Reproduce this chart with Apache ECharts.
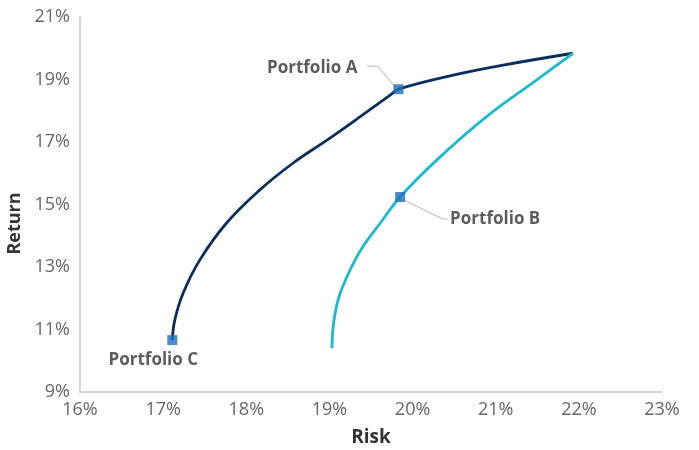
<!DOCTYPE html>
<html>
<head>
<meta charset="utf-8">
<script src="https://cdn.jsdelivr.net/npm/echarts@6/dist/echarts.min.js"></script>
<style>html,body{margin:0;padding:0;background:#fff}#c{width:699px;height:450px}</style>
</head>
<body>
<div id="c"></div>
<script>
// Frontier curves: [risk %, return %]
const frontierA = [
  [17.11, 10.66], [17.14, 11.30], [17.24, 12.16], [17.44, 13.22], [17.76, 14.40],
  [18.16, 15.46], [18.56, 16.32], [18.97, 17.06], [19.37, 17.81], [19.73, 18.50],
  [19.83, 18.69], [20.49, 19.14], [21.09, 19.46], [21.93, 19.84]
];
const frontierB = [
  [19.03, 10.40], [19.05, 11.20], [19.11, 12.00], [19.23, 12.80], [19.39, 13.60],
  [19.61, 14.40], [19.85, 15.24], [20.29, 16.42], [20.89, 17.81], [21.49, 18.98],
  [21.93, 19.84]
];
const portfolioNames = ['Portfolio A', 'Portfolio B', 'Portfolio C'];
const portfolioPoints = [[19.83, 18.69], [19.85, 15.24], [17.11, 10.66]];
const leaderA = [[19.80, 18.74], [19.58, 19.43], [19.45, 19.43]];
const leaderB = [[19.88, 15.17], [20.36, 14.54], [20.42, 14.54]];
const xTicks = [16, 17, 18, 19, 20, 21, 22, 23];
const yTicks = [9, 11, 13, 15, 17, 19, 21];

const FONT = '"Open Sans", "Noto Sans", sans-serif';
const labelPos = [[-36, -16, 'right'], [55, 27, 'left'], [-14, 25, 'center']];

const chart = echarts.init(document.getElementById('c'), null, {renderer: 'canvas'});
chart.setOption({
  animation: false,
  grid: {left: 80, right: 37, top: 17, bottom: 58, containLabel: false, outerBoundsMode: 'none'},
  xAxis: {
    type: 'value', min: xTicks[0], max: xTicks[xTicks.length - 1], interval: 1,
    name: 'Risk', nameLocation: 'middle', nameGap: 36,
    nameTextStyle: {fontFamily: FONT, fontWeight: 'bold', fontSize: 19, color: '#333'},
    axisLine: {lineStyle: {color: '#c8c8c8', width: 1.5}},
    axisTick: {show: false}, splitLine: {show: false},
    axisLabel: {fontFamily: FONT, fontSize: 18, color: '#666', margin: 9, formatter: v => v + '%'}
  },
  yAxis: {
    type: 'value', min: yTicks[0], max: yTicks[yTicks.length - 1], interval: 2,
    name: 'Return', nameLocation: 'middle', nameGap: 49,
    nameTextStyle: {fontFamily: FONT, fontWeight: 'bold', fontSize: 18, color: '#333', padding: [0, 38, 0, 0]},
    axisLine: {show: true, lineStyle: {color: '#c8c8c8', width: 1.5}},
    axisTick: {show: false}, splitLine: {show: false},
    axisLabel: {fontFamily: FONT, fontSize: 18, color: '#666', margin: 10, formatter: v => v + '%'}
  },
  series: [
    {type: 'line', data: leaderA, symbol: 'none', silent: true,
     lineStyle: {color: '#c8c8c8', width: 1.2}},
    {type: 'line', data: leaderB, symbol: 'none', silent: true,
     lineStyle: {color: '#c8c8c8', width: 1.2}},
    {type: 'line', data: frontierA, symbol: 'none', smooth: 0.4,
     lineStyle: {color: '#0a2d5e', width: 2.8}},
    {type: 'line', data: frontierB, symbol: 'none', smooth: 0.4,
     lineStyle: {color: '#1cb9d5', width: 2.8}},
    {type: 'scatter', symbol: 'rect', symbolSize: 10, z: 5,
     itemStyle: {color: '#1e6fbd'},
     data: portfolioPoints.map((p, i) => ({
       value: p, name: portfolioNames[i],
       label: {show: true, formatter: portfolioNames[i], position: [labelPos[i][0], labelPos[i][1]],
               align: labelPos[i][2], verticalAlign: 'middle',
               fontFamily: FONT, fontWeight: 'bold', fontSize: 17, color: '#333'}
     }))}
  ]
});
</script>
</body>
</html>
